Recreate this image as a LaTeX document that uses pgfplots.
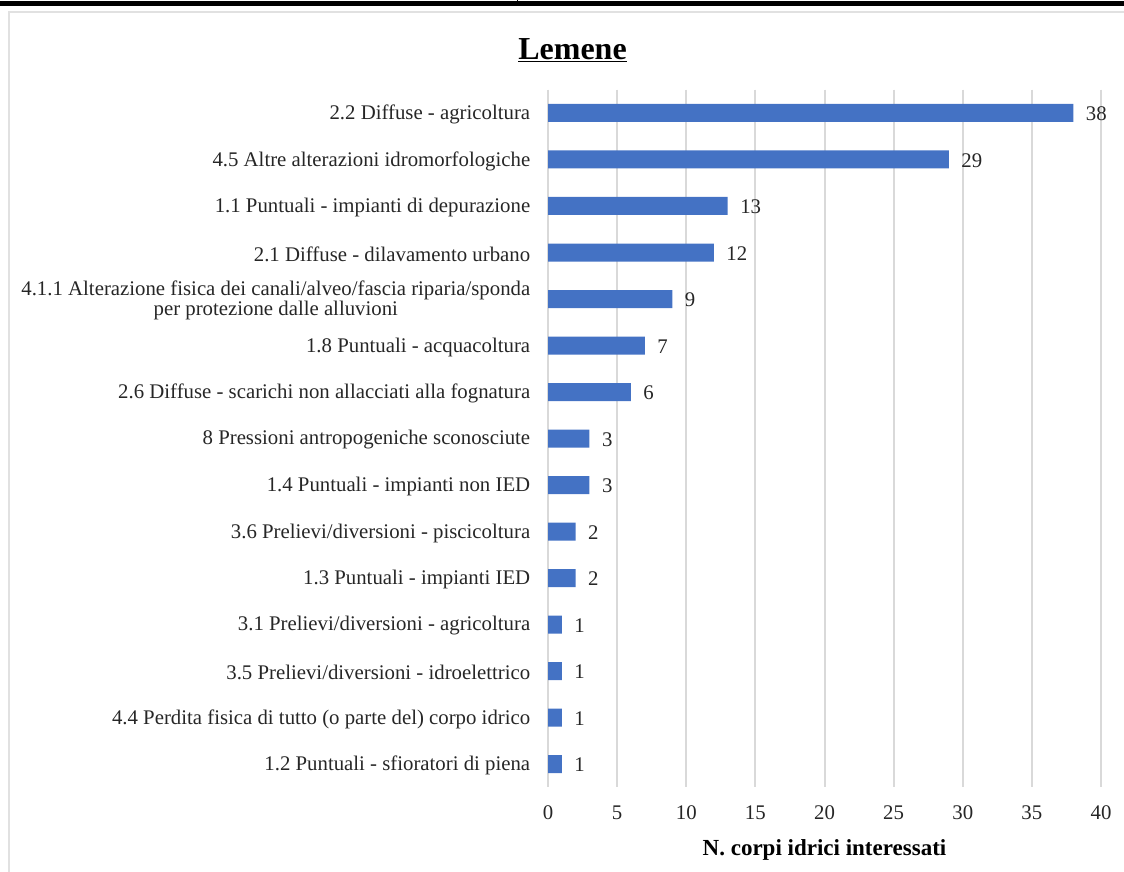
\documentclass[border=0pt]{standalone}
\usepackage{pgfplots}
\pgfplotsset{compat=1.18}
\usepackage{fontspec}
\setmainfont{Liberation Serif}
\definecolor{barblue}{HTML}{4472C4}
\definecolor{gridgray}{HTML}{D9D9D9}
\begin{document}
\begin{tikzpicture}[x=1pt,y=1pt]
\useasboundingbox (0,0) rectangle (1124,872);
\fill[black] (0,866) rectangle (1124,871);
\draw[black,line width=1pt] (517,866) -- (517,872);
\draw[gridgray!80,line width=2pt] (9,-5) -- (9,860) -- (1130,860);
\node[font=\fontsize{32}{36}\selectfont\bfseries] at (572.5,822) {\underline{Lemene}};
\begin{axis}[
  at={(548pt,84.75pt)}, anchor=south west,
  scale only axis, width=553pt, height=697.5pt,
  xmin=0, xmax=40, ymin=-0.5, ymax=14.5,
  y dir=reverse,
  xbar, bar width=18pt,
  axis line style={draw=none},
  major tick style={draw=none},
  xmajorgrids, grid style={gridgray, line width=2pt},
  xtick={0,5,...,40},
  ytick={0,...,14},
  yticklabels={2.2 Diffuse - agricoltura,
    4.5 Altre alterazioni idromorfologiche,
    1.1 Puntuali - impianti di depurazione,
    2.1 Diffuse - dilavamento urbano,
    {4.1.1 Alterazione fisica dei canali/alveo/fascia riparia/sponda\\per protezione dalle alluvioni},
    1.8 Puntuali - acquacoltura,
    2.6 Diffuse - scarichi non allacciati alla fognatura,
    8 Pressioni antropogeniche sconosciute,
    1.4 Puntuali - impianti non IED,
    3.6 Prelievi/diversioni - piscicoltura,
    1.3 Puntuali - impianti IED,
    3.1 Prelievi/diversioni - agricoltura,
    3.5 Prelievi/diversioni - idroelettrico,
    4.4 Perdita fisica di tutto (o parte del) corpo idrico,
    1.2 Puntuali - sfioratori di piena},
  yticklabel style={align=center, font=\fontsize{20.8}{20}\selectfont, text=black!85, xshift=-10pt, yshift=-1.5pt},
  xticklabel style={font=\fontsize{20.8}{22}\selectfont, text=black!85, yshift=-15pt},
  /pgf/number format/assume math mode=true,
  xlabel={\textbf{N. corpi idrici interessati}},
  xlabel style={font=\fontsize{23}{25}\selectfont, yshift=-13pt},
  nodes near coords,
  every node near coord/.append style={font=\fontsize{20.8}{22}\selectfont, text=black!85, xshift=9pt, yshift=-1pt},
  clip=false,
]
\addplot[fill=barblue, draw=none] coordinates {
(38,0) (29,1) (13,2) (12,3) (9,4) (7,5) (6,6) (3,7) (3,8) (2,9) (2,10) (1,11) (1,12) (1,13) (1,14)
};
\end{axis}
\end{tikzpicture}
\end{document}
